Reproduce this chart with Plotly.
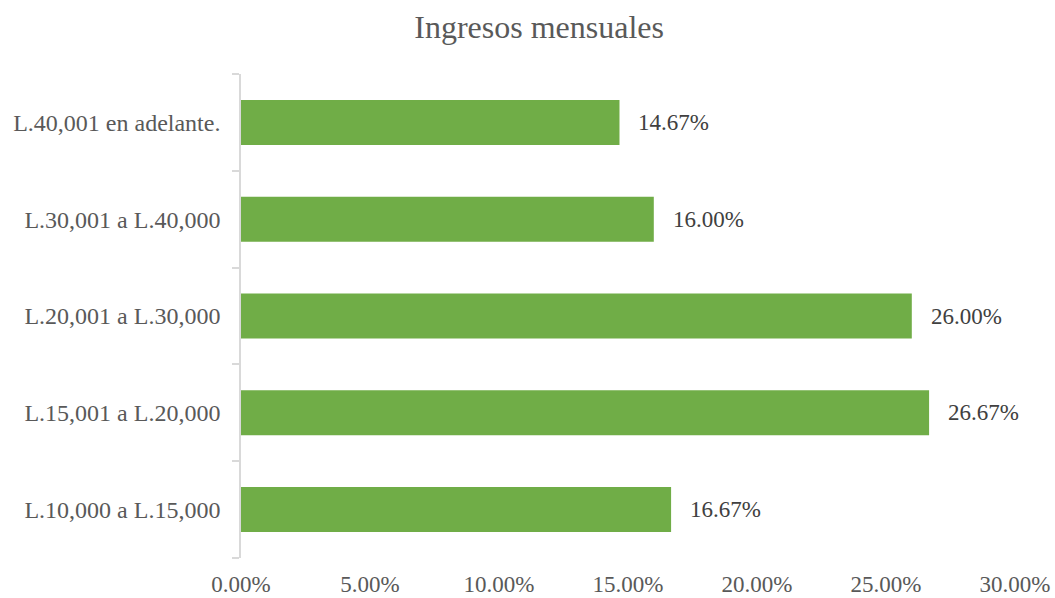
import plotly.graph_objects as go

categories = ["L.10,000 a L.15,000", "L.15,001 a L.20,000", "L.20,001 a L.30,000",
              "L.30,001 a L.40,000", "L.40,001 en adelante."]
values = [0.1667, 0.2667, 0.26, 0.16, 0.1467]
tick_vals = [0, 0.05, 0.10, 0.15, 0.20, 0.25, 0.30]

FONT = "Liberation Serif"
TXT = "#404040"
LBL = "#595959"

fig = go.Figure()
fig.add_trace(go.Bar(
    y=categories, x=values, orientation="h",
    marker=dict(color="#70AD47", line=dict(width=0)),
    width=0.465, hoverinfo="skip",
))

for c, v in zip(categories, values):
    fig.add_annotation(x=v, y=c, text=f"{v*100:.2f}%", showarrow=False,
                       xanchor="left", xshift=17, yshift=0,
                       font=dict(family=FONT, size=23, color=TXT))

fig.update_layout(
    width=1055, height=598,
    paper_bgcolor="white", plot_bgcolor="white",
    margin=dict(l=241, r=40, t=74, b=40),
    showlegend=False,
    hovermode=False,
    title=dict(text="Ingresos mensuales", x=0.511, xref="container", xanchor="center",
               y=0.955, yref="container", yanchor="middle",
               font=dict(family=FONT, size=32, color=LBL)),
    font=dict(family=FONT, size=23, color=LBL),
    xaxis=dict(range=[0, 0.30], tickvals=tick_vals, tickformat=".2%",
               showgrid=False, zeroline=False, showline=False, ticks="",
               automargin=False, ticklabelstandoff=10,
               tickfont=dict(family=FONT, size=23, color=LBL), fixedrange=True),
    yaxis=dict(type="category", categoryorder="array", categoryarray=categories,
               showline=True, linecolor="#D9D9D9", linewidth=1.5,
               ticks="outside", tickson="boundaries", ticklen=7, tickcolor="#D9D9D9",
               tickwidth=1.5, ticklabelstandoff=14, automargin=False,
               showgrid=False, zeroline=False, fixedrange=True,
               tickfont=dict(family=FONT, size=24, color=LBL)),
)

fig.write_html("out.html", config={"displayModeBar": False},
               post_script="document.body.style.margin='0';")
